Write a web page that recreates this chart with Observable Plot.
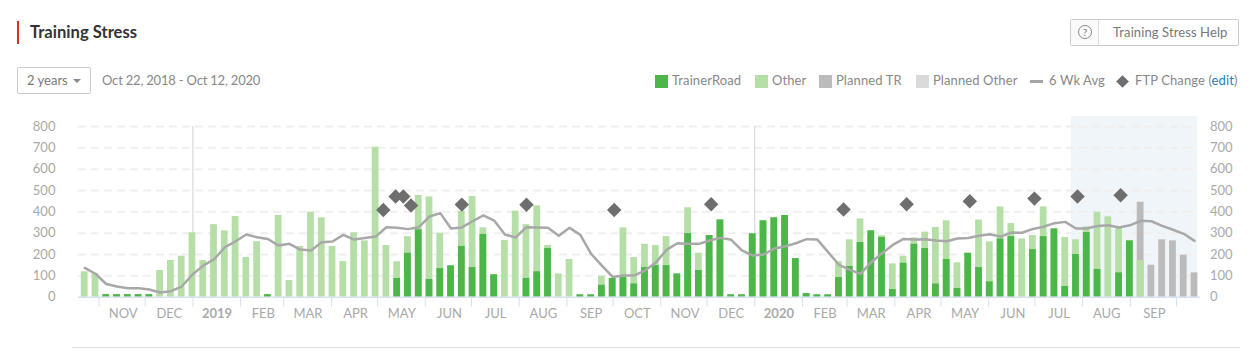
<!DOCTYPE html>
<html><head><meta charset="utf-8">
<script src="https://cdn.jsdelivr.net/npm/d3@7"></script>
<script src="https://cdn.jsdelivr.net/npm/@observablehq/plot@0.6"></script>
<style>
html,body{margin:0;padding:0;background:#fff;font-family:Lato,sans-serif;color:#7d7d7d;width:1253px;height:364px;overflow:hidden;position:relative}
.abs{position:absolute;white-space:nowrap}
#chart{position:absolute;left:0;top:0}
.sw{display:inline-block;vertical-align:middle}
</style></head><body>
<div class="abs" style="left:17px;top:21px;width:2px;height:23px;background:#d9321f"></div>
<div class="abs" style="left:30px;top:22px;font-size:16.6px;font-weight:700;color:#333;line-height:20px">Training Stress</div>
<div class="abs" style="left:1070px;top:19px;width:167px;height:25px;border:1px solid #ccc;border-radius:2px;font-size:13px;line-height:25px;color:#777">
<span class="abs" style="left:0;top:0;width:27px;height:25px;background:#fafafa;border-right:1px solid #ddd;"></span>
<span class="abs" style="left:7px;top:5px;width:12px;height:12px;border:1px solid #888;border-radius:50%;text-align:center;font-size:10px;line-height:12px">?</span>
<span class="abs" style="left:42px;top:0;letter-spacing:.1px">Training Stress Help</span></div>
<div class="abs" style="left:17px;top:67px;width:72px;height:25px;border:1px solid #ccc;border-radius:2px;font-size:13px;line-height:25px;color:#777"><span class="abs" style="left:9px;top:0">2 years</span><span class="abs" style="left:55px;top:11px;border:4px solid transparent;border-top-color:#888;border-bottom:0"></span></div>
<div class="abs" style="left:102px;top:70px;font-size:13px;line-height:20px;color:#888;letter-spacing:-.2px">Oct 22, 2018 - Oct 12, 2020</div>
<div id="legend"></div>
<div id="chart"></div>
<div class="abs" style="left:72px;top:347px;width:1168px;height:1px;background:#ddd"></div>
<script>
const seriesTrainerRoad = [0,0,12,12,12,12,12,0,0,0,0,0,0,0,0,0,0,12,0,0,0,0,0,0,0,0,0,0,0,88,206,316,83,134,147,238,139,294,105,0,0,88,119,228,0,0,11,11,56,88,92,62,139,148,148,109,298,125,289,362,11,11,297,358,372,383,181,17,11,11,92,144,256,311,280,36,159,248,228,62,177,41,206,139,72,273,284,0,223,284,320,50,200,303,130,0,114,264,0,0,0,0,0,0];
const seriesTotalActual = [119,110,12,12,12,12,12,125,172,192,302,172,340,311,378,186,260,12,383,78,238,398,372,238,167,302,264,703,242,166,284,477,470,300,147,403,472,325,105,266,403,340,428,242,109,177,11,11,98,88,325,186,248,242,284,109,419,206,289,362,11,11,297,358,372,383,181,17,11,11,166,269,367,311,288,156,192,278,305,327,358,161,206,362,259,423,345,273,289,423,320,280,269,330,398,377,325,264,172,0,0,0,0,0];
const seriesPlannedTop = [0,0,0,0,0,0,0,0,0,0,0,0,0,0,0,0,0,0,0,0,0,0,0,0,0,0,0,0,0,0,0,0,0,0,0,0,0,0,0,0,0,0,0,0,0,0,0,0,0,0,0,0,0,0,0,0,0,0,0,0,0,0,0,0,0,0,0,0,0,0,0,0,0,0,0,0,0,0,0,0,0,0,0,0,0,0,0,0,0,0,0,0,0,0,0,0,0,0,445,150,269,264,197,114];
const seriesAvg = [137,110,62,50,42,42,36,22,28,50,106,148,177,234,262,294,281,273,242,250,223,219,258,261,292,270,277,284,328,325,319,328,378,394,322,327,356,383,359,294,280,328,327,325,288,325,292,203,148,95,102,102,125,162,222,253,250,250,266,278,269,219,195,200,228,238,253,272,270,211,152,128,109,164,206,245,273,270,272,266,262,275,277,288,295,284,303,302,320,330,347,353,322,322,334,337,327,337,358,356,334,316,297,264];
const ftpDates = ["2019-05-04","2019-05-12","2019-05-17","2019-05-22","2019-06-24","2019-08-05","2019-10-01","2019-12-03","2020-02-27","2020-04-08","2020-05-19","2020-06-30","2020-07-28","2020-08-25"];
const ftpValues = [409,472,472,430,434,433,409,436,411,436,450,462,472,478];
const monthStarts = ["2018-11-01","2018-12-01","2019-02-01","2019-03-01","2019-04-01","2019-05-01","2019-06-01","2019-07-01","2019-08-01","2019-09-01","2019-10-01","2019-11-01","2019-12-01","2020-02-01","2020-03-01","2020-04-01","2020-05-01","2020-06-01","2020-07-01","2020-08-01","2020-09-01","2020-10-01"];
const yearStarts = ["2019-01-01","2020-01-01"];
const monthLabels = ["NOV","DEC","FEB","MAR","APR","MAY","JUN","JUL","AUG","SEP","OCT","NOV","DEC","FEB","MAR","APR","MAY","JUN","JUL","AUG","SEP"];
const monthCentres = ["2018-11-16","2018-12-16","2019-02-15","2019-03-16","2019-04-16","2019-05-16","2019-06-16","2019-07-16","2019-08-16","2019-09-16","2019-10-16","2019-11-16","2019-12-16","2020-02-15","2020-03-16","2020-04-16","2020-05-16","2020-06-16","2020-07-16","2020-08-16","2020-09-16"];
const yearLabels = ["2019","2020"];
const yearCentres = ["2019-01-16","2020-01-16"];
const yTicks = [0,100,200,300,400,500,600,700,800];
const bandRange = ["2020-07-24","2020-10-14"];
const legendItems = [["TrainerRoad","#4cb648","bar"],["Other","#b6dfa8","bar"],["Planned TR","#bbbbbb","bar"],["Planned Other","#dadada","bar"],["6 Wk Avg","#a5a5a5","line"],["FTP Change","#6e6e6e","diamond"]];

const D = s => new Date(s + "T00:00:00Z");
const T = s => new Date(+D(s) - 0.7 * 864e5); // month boundaries sit just left of the week bars
const start = D("2018-10-22");
const weeks = seriesAvg.map((_, i) => new Date(+start + i * 7 * 864e5));
const halfBar = 2.2 * 864e5;
const rows = weeks.map((d, i) => ({d, x1:new Date(+d-halfBar), x2:new Date(+d+halfBar), tr:seriesTrainerRoad[i], total:seriesTotalActual[i], plan:seriesPlannedTop[i], avg:seriesAvg[i]}));
const ftp = ftpDates.map((s,i)=>({d:D(s),v:ftpValues[i]}));
const axisColor = "#d6e0ee", labelColor = "#a9a9a9";
const tf = (labels, centres) => d => { const i = centres.findIndex(c => +D(c) === +d); return i < 0 ? "" : labels[i]; };

const chart = Plot.plot({
  width:1253, height:364, marginTop:0, marginBottom:0, marginLeft:0, marginRight:0,
  style:{background:"transparent", fontFamily:"Lato,sans-serif", fontSize:"13px"},
  x:{type:"utc", domain:[D("2018-10-22"), D("2020-10-12")], range:[84.2,1194], label:null},
  y:{domain:[0,800], range:[296.7,126], label:null},
  marks:[
    Plot.rect([{a:D(bandRange[0]),b:D(bandRange[1])}],{x1:"a",x2:"b",y1:0,y2:846,fill:"#eff5f9"}),
    Plot.ruleY(yTicks.slice(1),{x1:D("2018-10-18"),x2:D("2020-10-14"),stroke:"#efefef",strokeWidth:2,strokeDasharray:"8 5"}),
    Plot.ruleX(yearStarts.map(T),{y1:0,y2:800,stroke:"#d0d0d0",strokeWidth:1}),
    Plot.rectY(rows.filter(r=>r.plan>0),{x1:"x1",x2:"x2",y1:0,y2:"plan",fill:"#bbbbbb"}),
    Plot.rectY(rows.filter(r=>r.total>0),{x1:"x1",x2:"x2",y1:0,y2:"total",fill:"#b6dfa8"}),
    Plot.rectY(rows.filter(r=>r.tr>0),{x1:"x1",x2:"x2",y1:0,y2:"tr",fill:"#4cb648"}),
    Plot.ruleY([0],{x1:D("2018-10-18"),x2:D("2020-10-16"),stroke:axisColor,strokeWidth:1.5}),
    Plot.lineY(rows,{x:"d",y:"avg",stroke:"#a8a8a8",strokeWidth:2.5,curve:"linear",style:{filter:"drop-shadow(0 2px 1.5px rgba(0,0,0,.1))"}}),
    Plot.dot(ftp,{x:"d",y:"v",symbol:"diamond2",r:6.5,fill:"#6e6e6e",stroke:"none"}),
    Plot.axisX({ticks:monthStarts.map(T),tickSize:10,tickFormat:()=>"",stroke:axisColor,anchor:"bottom",y:0}),
    Plot.axisX({ticks:yearStarts.map(T),tickSize:10,tickFormat:()=>"",stroke:axisColor,anchor:"bottom",y:0}),
    Plot.axisX({ticks:monthCentres.map(D),tickSize:0,tickPadding:12,tickFormat:tf(monthLabels,monthCentres),fill:labelColor,stroke:"none",anchor:"bottom",y:0,fontSize:13}),
    Plot.axisX({ticks:yearCentres.map(D),tickSize:0,tickPadding:12,tickFormat:tf(yearLabels,yearCentres),fill:labelColor,stroke:"none",anchor:"bottom",y:0,fontSize:13,fontWeight:"700"}),
    Plot.axisY({anchor:"left",ticks:yTicks,tickSize:0,tickPadding:0,x:D("2018-10-03"),fill:labelColor,tickFormat:d=>d,fontSize:13}),
    Plot.axisY({anchor:"right",ticks:yTicks,tickSize:0,tickPadding:0,x:D("2020-10-22"),fill:labelColor,tickFormat:d=>d,fontSize:13})
  ]
});
document.getElementById("chart").append(chart);

// legend, HTML beside the chart
const xs=[655,755,819,916,1030,1116];
const lg=document.getElementById("legend");
legendItems.forEach(([t,c,k],i)=>{
  const e=document.createElement("div"); e.className="abs";
  e.style.cssText=`left:${xs[i]}px;top:70px;font-size:13px;line-height:20px;color:#888;letter-spacing:.1px;`;
  const mark = k==="bar" ? `<span class="sw" style="width:13px;height:13px;background:${c};margin-right:4px"></span>`
    : k==="line" ? `<span class="sw" style="width:13px;height:3px;background:${c};margin-right:6px"></span>`
    : `<span class="sw" style="width:9px;height:9px;background:${c};transform:rotate(45deg);margin:0 8px 0 2px"></span>`;
  e.innerHTML = mark + t + (i===5?` <span style="color:#888">(</span><span style="color:#1a7fc1">edit</span><span style="color:#888">)</span>`:"");
  lg.append(e);
});
</script>
</body></html>
